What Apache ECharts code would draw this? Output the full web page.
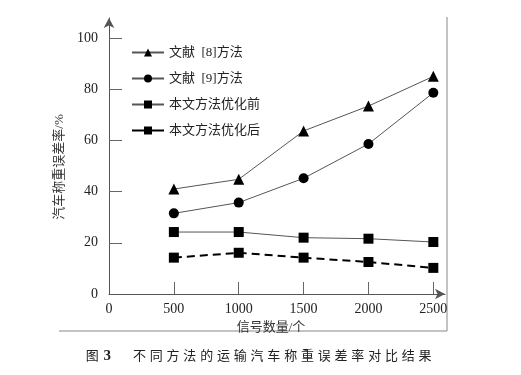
<!DOCTYPE html>
<html>
<head>
<meta charset="utf-8">
<script src="https://cdn.jsdelivr.net/npm/echarts@6/dist/echarts.min.js"></script>
<style>
  html, body { margin: 0; padding: 0; background: #fff; }
  #wrap { position: relative; width: 521px; height: 375px; }
  #chart { width: 521px; height: 375px; }
  #caption {
    position: absolute; left: 0; top: 347px; width: 521px; text-align: center;
    font-family: 'Liberation Serif', 'Noto Sans CJK SC', serif; font-size: 13px;
    letter-spacing: 3.8px; color: #222; line-height: 16px;
  }
  #caption b { letter-spacing: 0; margin-left: 1px; margin-right: 22px; font-size: 15px; }
</style>
</head>
<body>
<div id="wrap">
  <div id="chart"></div>
  <div id="caption">图<b>3</b>不同方法的运输汽车称重误差率对比结果</div>
</div>
<script>
  // 数据
  const signalCounts = [500, 1000, 1500, 2000, 2500]
  const ref8 = [41, 44.8, 63.7, 73.4, 85]
  const ref9 = [31.5, 35.7, 45.2, 58.6, 78.6]
  const oursBefore = [24.2, 24.2, 22, 21.6, 20.3]
  const oursAfter = [14.2, 16.1, 14.2, 12.5, 10.2]
  const seriesNames = ['文献  [8]方法', '文献  [9]方法', '本文方法优化前', '本文方法优化后']
  const xTickLabels = [0, 500, 1000, 1500, 2000, 2500]
  const yTickLabels = [0, 20, 40, 60, 80, 100]

  const font = "'Liberation Serif', 'Noto Sans CJK SC', serif"
  const pairs = (ys) => ys.map((v, i) => [signalCounts[i], v])

  const chart = echarts.init(document.getElementById('chart'))

  chart.setOption({
    animation: false,
    grid: { left: 109, right: 76, top: 18, bottom: 81 },
    legend: {
      orient: 'vertical',
      left: 126,
      top: 41,
      itemWidth: 32,
      itemHeight: 10,
      itemGap: 13,
      textStyle: { fontFamily: font, fontSize: 13, color: '#222' },
      data: [
        { name: seriesNames[0] },
        { name: seriesNames[1] },
        { name: seriesNames[2] },
        { name: seriesNames[3], lineStyle: { type: 'solid', width: 2 } }
      ]
    },
    xAxis: {
      type: 'value',
      min: 0,
      max: 2590,
      name: '信号数量/个',
      nameLocation: 'middle',
      nameGap: 25,
      nameTextStyle: { fontFamily: font, fontSize: 13, color: '#333', padding: [0, 12, 0, 0] },
      splitLine: { show: false },
      axisLine: { lineStyle: { color: '#555', width: 1 }, symbol: ['none', 'arrow'], symbolSize: [8, 10] },
      axisTick: { inside: true, length: 12, lineStyle: { color: '#666' }, customValues: signalCounts },
      axisLabel: {
        fontFamily: font, fontSize: 14, color: '#222', margin: 8,
        customValues: xTickLabels, formatter: (v) => String(v)
      }
    },
    yAxis: {
      type: 'value',
      min: 0,
      max: 107.8,
      name: '汽车称重误差率/%',
      nameLocation: 'middle',
      nameGap: 38,
      nameRotate: 90,
      nameTextStyle: { fontFamily: font, fontSize: 13, color: '#333', padding: [0, 22, 0, 0] },
      splitLine: { show: false },
      axisLine: { lineStyle: { color: '#555', width: 1 }, symbol: ['none', 'arrow'], symbolSize: [8, 10] },
      axisTick: { inside: true, length: 13, lineStyle: { color: '#666' }, customValues: yTickLabels.slice(1) },
      axisLabel: {
        fontFamily: font, fontSize: 14, color: '#222', margin: 11,
        customValues: yTickLabels, formatter: (v) => String(v)
      }
    },
    graphic: [
      { type: 'line', shape: { x1: 447, y1: 17, x2: 447, y2: 331 }, style: { stroke: '#888', lineWidth: 1 } },
      { type: 'line', shape: { x1: 59, y1: 331, x2: 447, y2: 331 }, style: { stroke: '#888', lineWidth: 1 } }
    ],
    series: [{
      name: seriesNames[0],
      type: 'line',
      data: pairs(ref8),
      symbol: 'triangle',
      symbolSize: 11,
      itemStyle: { color: '#000' },
      lineStyle: { color: '#555', width: 1 }
    }, {
      name: seriesNames[1],
      type: 'line',
      data: pairs(ref9),
      symbol: 'circle',
      symbolSize: 10,
      itemStyle: { color: '#000' },
      lineStyle: { color: '#555', width: 1 }
    }, {
      name: seriesNames[2],
      type: 'line',
      data: pairs(oursBefore),
      symbol: 'rect',
      symbolSize: 10,
      itemStyle: { color: '#000' },
      lineStyle: { color: '#555', width: 1 }
    }, {
      name: seriesNames[3],
      type: 'line',
      data: pairs(oursAfter),
      symbol: 'rect',
      symbolSize: 10,
      itemStyle: { color: '#000' },
      lineStyle: { color: '#000', width: 2, type: [8, 5] }
    }]
  })
</script>
</body>
</html>
